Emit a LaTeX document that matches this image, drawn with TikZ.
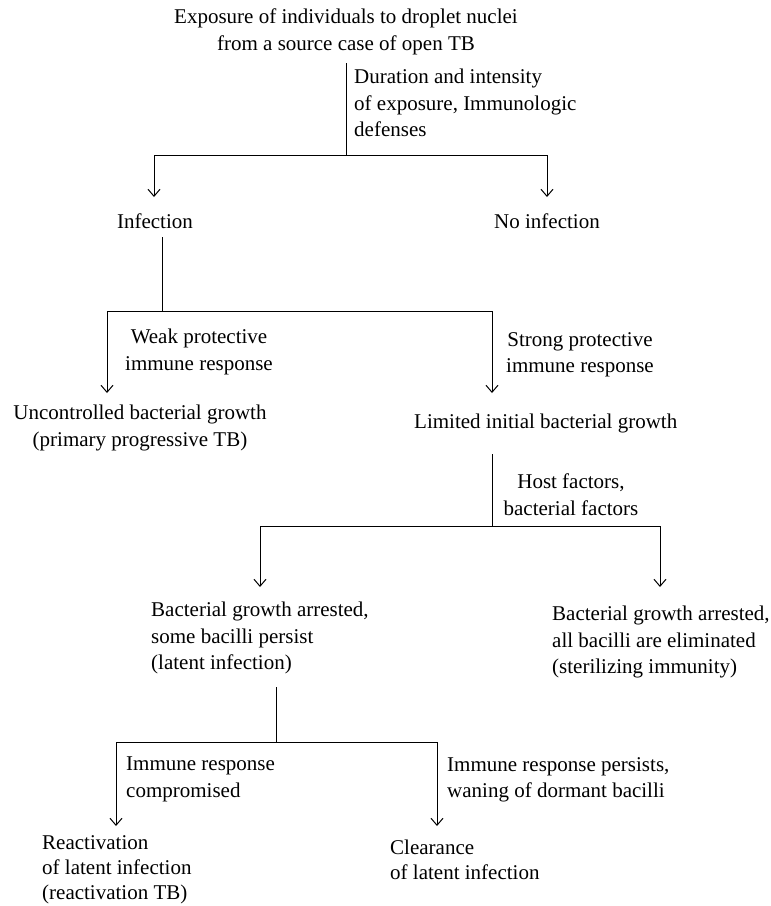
\documentclass[tikz,border=0pt]{standalone}
\usepackage{fontspec}
\setmainfont{Liberation Serif}
\usepackage{tikz}
\usetikzlibrary{arrows.meta,calc}

\begin{document}
\begin{tikzpicture}[x=1pt,y=-1pt,
  txt/.style={inner sep=0pt,font=\fontsize{21}{26.5}\selectfont},
  ctr/.style={txt,align=center,anchor=north},
  lft/.style={txt,align=left,anchor=north west},
  line/.style={line width=1pt},
  arr/.style={line,-{Straight Barb[length=7pt,width=12pt]}}]
\useasboundingbox (0,0) rectangle (771,906);
\node[ctr] (expo) at (346,9) {Exposure of individuals to droplet nuclei\\from a source case of open TB};
\node[lft] (dur) at (354,69) {Duration and intensity\\of exposure, Immunologic\\defenses};
\node[ctr] (inf) at (155,214) {Infection};
\node[ctr] (noinf) at (547,214) {No infection};
\node[ctr] (weak) at (199,329) {Weak protective\\immune response};
\node[ctr] (strong) at (580,332) {Strong protective\\immune response};
\node[ctr] (unc) at (140,405) {Uncontrolled bacterial growth\\(primary progressive TB)};
\node[lft] (lim) at (414,414) {Limited initial bacterial growth};
\node[ctr] (host) at (571,474) {Host factors,\\bacterial factors};
\node[lft] (lat) at (151,602) {Bacterial growth arrested,\\some bacilli persist\\(latent infection)};
\node[lft] (ster) at (552,606) {Bacterial growth arrested,\\all bacilli are eliminated\\(sterilizing immunity)};
\node[lft] (comp) at (126,757) {Immune response\\compromised};
\node[lft] (pers) at (447,757) {Immune response persists,\\waning of dormant bacilli};
\node[lft,font=\fontsize{21}{25}\selectfont] (react) at (42,835) {Reactivation\\of latent infection\\(reactivation TB)};
\node[lft,font=\fontsize{21}{25}\selectfont] (clear) at (390,840) {Clearance\\of latent infection};
\coordinate (t1) at (346,63);
\coordinate (j1) at (346,155);
\coordinate (a1) at (154,197);
\coordinate (b1) at (547,197);
\coordinate (t2) at (162,237);
\coordinate (j2) at (162,311);
\coordinate (a2) at (107,393);
\coordinate (b2) at (492,393);
\coordinate (t3) at (492,454);
\coordinate (j3) at (492,526);
\coordinate (a3) at (260,587);
\coordinate (b3) at (660,587);
\coordinate (t4) at (276,687);
\coordinate (j4) at (276,742);
\coordinate (a4) at (116,826);
\coordinate (b4) at (437,826);
\draw[line] (t1) -- (j1);
\draw[arr] (j1) -| (a1);
\draw[arr] (j1) -| (b1);
\draw[line] (t2) -- (j2);
\draw[arr] (j2) -| (a2);
\draw[arr] (j2) -| (b2);
\draw[line] (t3) -- (j3);
\draw[arr] (j3) -| (a3);
\draw[arr] (j3) -| (b3);
\draw[line] (t4) -- (j4);
\draw[arr] (j4) -| (a4);
\draw[arr] (j4) -| (b4);
\end{tikzpicture}
\end{document}
